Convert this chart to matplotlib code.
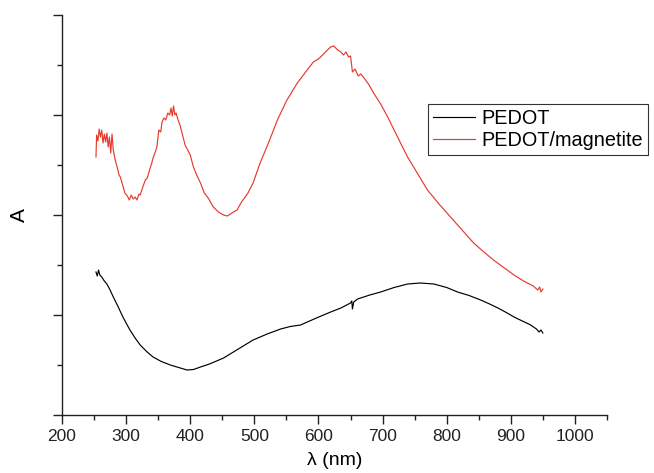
import numpy as np
import matplotlib.pyplot as plt

plt.rcParams['font.family'] = ['Liberation Sans', 'DejaVu Sans']

# PEDOT spectrum (wavelength nm, absorbance, arbitrary units)
pedot_wl = [253, 255, 257, 259, 262, 266, 270, 275, 280, 287, 295, 300, 306, 314, 322, 332,
            342, 355, 369, 382, 395, 405, 416, 430, 452, 475, 498, 520, 541, 556, 572, 595,
            619, 635, 650, 652, 653, 655, 661, 680, 697, 718, 739, 759, 780, 800, 817, 835,
            853, 867, 880, 893, 905, 918, 931, 940, 944, 947, 950]
pedot_a = [2.86, 2.78, 2.90, 2.80, 2.76, 2.68, 2.62, 2.50, 2.36, 2.18, 1.96, 1.84, 1.70, 1.54, 1.40, 1.27,
           1.16, 1.07, 1.00, 0.95, 0.90, 0.91, 0.96, 1.02, 1.14, 1.32, 1.50, 1.62, 1.72, 1.77, 1.80, 1.93,
           2.06, 2.14, 2.24, 2.28, 2.12, 2.26, 2.32, 2.40, 2.46, 2.55, 2.62, 2.64, 2.62, 2.55, 2.46, 2.39,
           2.30, 2.22, 2.14, 2.05, 1.96, 1.88, 1.80, 1.72, 1.66, 1.70, 1.64]

# PEDOT/magnetite spectrum
mag_wl = [253, 254, 256, 258, 260, 262, 264, 266, 268, 270, 272, 274, 276, 278, 280, 283,
          286, 289, 291, 295, 298, 302, 305, 308, 311, 314, 317, 320, 322, 326, 330, 333,
          337, 340, 342, 345, 348, 351, 354, 356, 359, 362, 365, 368, 370, 372, 374, 376,
          378, 381, 384, 388, 392, 396, 400, 405, 410, 416, 422, 428, 436, 444, 452, 458,
          465, 473, 480, 490, 498, 509, 522, 536, 550, 567, 580, 592, 600, 608, 614, 619,
          624, 630, 635, 639, 643, 647, 650, 653, 657, 662, 666, 670, 678, 686, 697, 708,
          718, 728, 739, 755, 770, 788, 806, 824, 842, 858, 873, 890, 905, 920, 935, 942,
          945, 947, 950]
mag_a = [5.16, 5.60, 5.48, 5.72, 5.56, 5.70, 5.44, 5.62, 5.46, 5.64, 5.36, 5.56, 5.24, 5.62, 5.30, 5.10,
         4.96, 4.80, 4.76, 4.58, 4.44, 4.38, 4.30, 4.40, 4.32, 4.36, 4.30, 4.42, 4.40, 4.56, 4.70, 4.74,
         4.92, 5.04, 5.14, 5.24, 5.36, 5.70, 5.66, 5.86, 5.94, 5.90, 6.04, 6.00, 6.14, 5.98, 6.18, 6.00,
         6.04, 5.90, 5.80, 5.60, 5.40, 5.30, 5.20, 4.96, 4.80, 4.64, 4.44, 4.34, 4.16, 4.06, 4.00, 3.98,
         4.04, 4.10, 4.26, 4.44, 4.64, 5.04, 5.44, 5.90, 6.28, 6.64, 6.86, 7.06, 7.12, 7.22, 7.30, 7.36,
         7.38, 7.30, 7.26, 7.20, 7.26, 7.16, 7.18, 6.86, 6.92, 6.78, 6.82, 6.76, 6.62, 6.44, 6.22, 5.96,
         5.70, 5.44, 5.16, 4.82, 4.50, 4.22, 3.96, 3.70, 3.44, 3.26, 3.10, 2.94, 2.80, 2.68, 2.58, 2.50,
         2.56, 2.46, 2.52]

red = '#e63a2e'

fig = plt.figure(figsize=(6.54, 4.73), dpi=100)
ax = fig.add_axes([0.0948, 0.1226, 0.8333, 0.8457])

ax.plot(pedot_wl, pedot_a, color='black', lw=0.85, label='PEDOT')
ax.plot(mag_wl, mag_a, color=red, lw=0.85, label='PEDOT/magnetite')

ax.set_xlim(200, 1050)
ax.set_ylim(0, 8)
ax.set_xticks(np.arange(200, 1001, 100))
ax.set_xticks(np.arange(250, 1051, 100), minor=True)
ax.set_yticks([0, 2, 4, 6, 8])
ax.set_yticks([1, 3, 5, 7], minor=True)
ax.set_yticklabels([])

for s in ['top', 'right']:
    ax.spines[s].set_visible(False)
for s in ['left', 'bottom']:
    ax.spines[s].set_linewidth(1.0)
    ax.spines[s].set_color('#222222')

ax.tick_params(which='major', direction='out', length=6.3, width=1.0, colors='#222222', labelsize=12.5)
ax.tick_params(which='minor', direction='out', length=3.4, width=1.0, colors='#222222')

ax.set_xlabel('λ (nm)', fontsize=14, labelpad=6)
ax.set_ylabel('A', fontsize=15, labelpad=14)

leg = ax.legend(loc='upper left', bbox_to_anchor=(0.672, 0.7775), borderaxespad=0,
                fontsize=14.3, frameon=True, fancybox=False, handlelength=2.1,
                borderpad=0.25, labelspacing=0.15, handletextpad=0.35)
leg.get_frame().set_edgecolor('black')
leg.get_frame().set_linewidth(0.8)

fig.savefig('out.png', dpi=100)
